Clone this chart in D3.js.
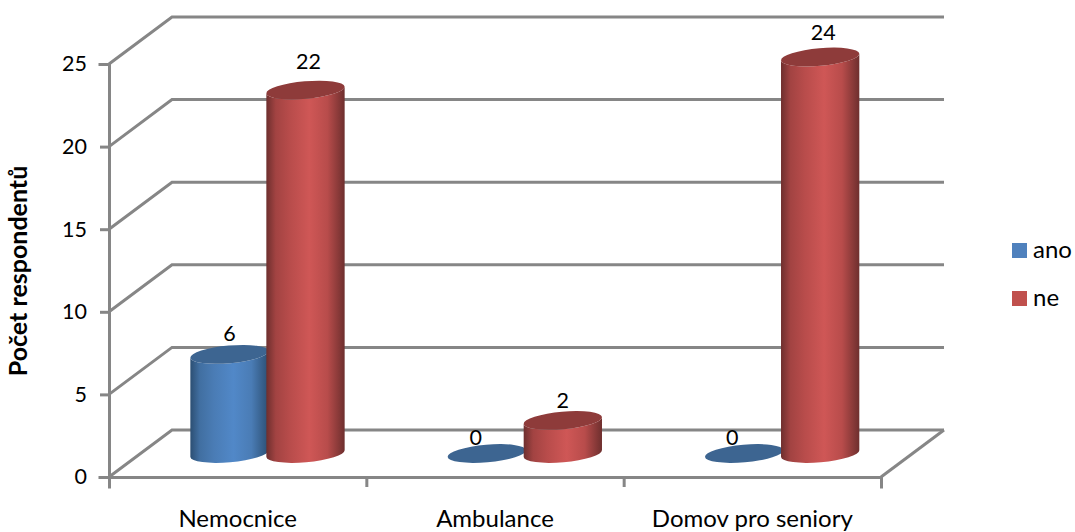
<!DOCTYPE html>
<html lang="cs">
<head>
<meta charset="utf-8">
<script src="https://cdn.jsdelivr.net/npm/d3@7/dist/d3.min.js"></script>
<style>
  html, body { margin: 0; padding: 0; background: #fff; }
  svg { display: block; }
  text { font-family: Lato, "Open Sans", sans-serif; fill: #000; }
</style>
</head>
<body>
<svg id="chart" width="1075" height="532"></svg>
<script>
// Chart data
const categories = ["Nemocnice", "Ambulance", "Domov pro seniory"];
const seriesNames = ["ano", "ne"];
const anoValues = [6, 0, 0];
const neValues = [22, 2, 24];
const yTicks = [0, 5, 10, 15, 20, 25];
const yTitle = "Počet respondentů";

// Label nudges from the top of each cylinder, per series and category
const anoLabelNudge = [[0, -21], [-11, -17], [-12, -17]];
const neLabelNudge = [[3, -29], [0, -20], [3, -25]];

const W = 1075, H = 532;
const svg = d3.select("#chart").attr("viewBox", `0 0 ${W} ${H}`);

// Box geometry: front plane, and the offset of the back wall behind it
const front = { left: 109, right: 881, bottom: 477, top: 64 };
const depth = { x: 63, y: -47 };
const axisColor = "#868686";
const axisWidth = 3;
const numberSize = 21.5;

const yFront = d3.scaleLinear().domain([0, 25]).range([front.bottom, front.top]);
const xBand = d3.scaleBand().domain(categories).range([front.left, front.right]);
const xEdges = d3.scaleLinear().domain([0, 3]).range([front.left, front.right]);

// Cylinders stand on the floor, inside the box
const baseY = 453.5;
const yBar = d3.scaleLinear().domain([0, 25]).range([baseY, baseY - (front.bottom - front.top)]);
const seriesX = d3.scaleOrdinal().domain(seriesNames).range([120.5, 196.5]);
const rx = 39.3, ry = 8.8, tilt = -5;
const tiltRad = tilt * Math.PI / 180;

// Horizontal shading of a cylinder body
const defs = svg.append("defs");
const shades = {
  ano: { edge: "#2c4f73", mid1: "#4a7cb5", mid2: "#5188c8", top: "#3d6591", legend: "#4f81bd" },
  ne: { edge: "#6e2f2e", mid1: "#b84c4b", mid2: "#cf5756", top: "#8e3b3a", legend: "#c0504d" }
};
seriesNames.forEach(name => {
  const s = shades[name];
  const g = defs.append("linearGradient").attr("id", `body-${name}`)
    .attr("x1", 0).attr("x2", 1).attr("y1", 0).attr("y2", 0);
  [[0, s.edge], [0.12, d3.interpolateRgb(s.edge, s.mid1)(0.7)], [0.3, s.mid1], [0.55, s.mid2],
   [0.78, s.mid1], [1, s.edge]].forEach(([o, c]) => g.append("stop").attr("offset", o).attr("stop-color", c));
});

// Back wall gridlines with their slanted returns to the front axis
const grid = svg.append("g").attr("fill", "none").attr("stroke", axisColor).attr("stroke-width", axisWidth);
grid.selectAll("path").data(yTicks).join("path")
  .attr("d", v => d3.line()([
    [front.left, yFront(v)],
    [front.left + depth.x, yFront(v) + depth.y],
    [front.right + depth.x, yFront(v) + depth.y]
  ]));
// Right edge of the floor
grid.append("path").attr("d", d3.line()([
  [front.right, front.bottom],
  [front.right + depth.x, front.bottom + depth.y]
]));

// Front axes
const axisLeft = d3.axisLeft(yFront).tickValues(yTicks).tickSize(9).tickPadding(13);
const gy = svg.append("g").attr("transform", `translate(${front.left},0)`).call(axisLeft);
const axisBottom = d3.axisBottom(xEdges).tickValues([0, 1, 2, 3]).tickSize(10).tickFormat("");
const gx = svg.append("g").attr("transform", `translate(0,${front.bottom})`).call(axisBottom);
[gy, gx].forEach(g => {
  g.selectAll(".domain, .tick line").attr("stroke", axisColor).attr("stroke-width", axisWidth);
  g.select(".domain").attr("stroke-linecap", "square");
});
gy.selectAll("text").attr("font-size", numberSize).attr("fill", "#000")
  .style("font-family", "Lato, 'Open Sans', sans-serif");

// Category names centred under each band
svg.append("g").selectAll("text").data(categories).join("text")
  .attr("x", d => xBand(d) + xBand.bandwidth() / 2)
  .attr("y", 527)
  .attr("text-anchor", "middle")
  .attr("font-size", 24)
  .text(d => d);

// Vertical axis title
svg.append("text")
  .attr("transform", "translate(27,271) rotate(-90)")
  .attr("text-anchor", "middle")
  .attr("font-size", 25)
  .attr("font-weight", 700)
  .text(yTitle);

// Outline of a cylinder wall: down one side, along the base arc, up the other side, back over the top
function bodyPath(cx, yTop, yBase) {
  const dx = rx * Math.cos(tiltRad), dy = rx * Math.sin(tiltRad);
  const arc = (x, y, sweep) => `A${rx},${ry} ${tilt} 0 ${sweep} ${x},${y}`;
  return `M${cx - dx},${yTop - dy}L${cx - dx},${yBase - dy}`
    + arc(cx + dx, yBase + dy, 0)
    + `L${cx + dx},${yTop + dy}`
    + arc(cx - dx, yTop - dy, 1) + "Z";
}

// Cylinders: the first series is drawn first so the second overlaps it
const seriesValues = { ano: anoValues, ne: neValues };
const nudges = { ano: anoLabelNudge, ne: neLabelNudge };

categories.forEach((cat, i) => {
  seriesNames.forEach(name => {
    const v = seriesValues[name][i];
    const cx = xBand(cat) + seriesX(name);
    const yTop = yBar(v);
    const g = svg.append("g").attr("class", `bar ${name}`);
    if (v > 0) {
      g.append("path")
        .attr("d", bodyPath(cx, yTop, baseY))
        .attr("fill", `url(#body-${name})`);
    }
    g.append("ellipse")
      .attr("cx", cx).attr("cy", yTop)
      .attr("rx", rx).attr("ry", ry)
      .attr("transform", `rotate(${tilt} ${cx} ${yTop})`)
      .attr("fill", shades[name].top);
  });
});

// Value labels sit above everything else
seriesNames.forEach(name => {
  svg.append("g").selectAll("text").data(seriesValues[name]).join("text")
    .attr("x", (d, i) => xBand(categories[i]) + seriesX(name) + nudges[name][i][0])
    .attr("y", (d, i) => yBar(d) + nudges[name][i][1] + 8)
    .attr("text-anchor", "middle")
    .attr("font-size", numberSize)
    .text(d => d);
});

// Legend
const legendY = d3.scalePoint().domain(seriesNames).range([250.5, 298.5]);
const legend = svg.append("g").selectAll("g").data(seriesNames).join("g")
  .attr("transform", d => `translate(1012,${legendY(d)})`);
legend.append("rect")
  .attr("x", 0).attr("y", -7.5).attr("width", 15).attr("height", 15)
  .attr("fill", d => shades[d].legend);
legend.append("text")
  .attr("x", 21).attr("y", 7)
  .attr("font-size", 24)
  .text(d => d);
</script>
</body>
</html>
